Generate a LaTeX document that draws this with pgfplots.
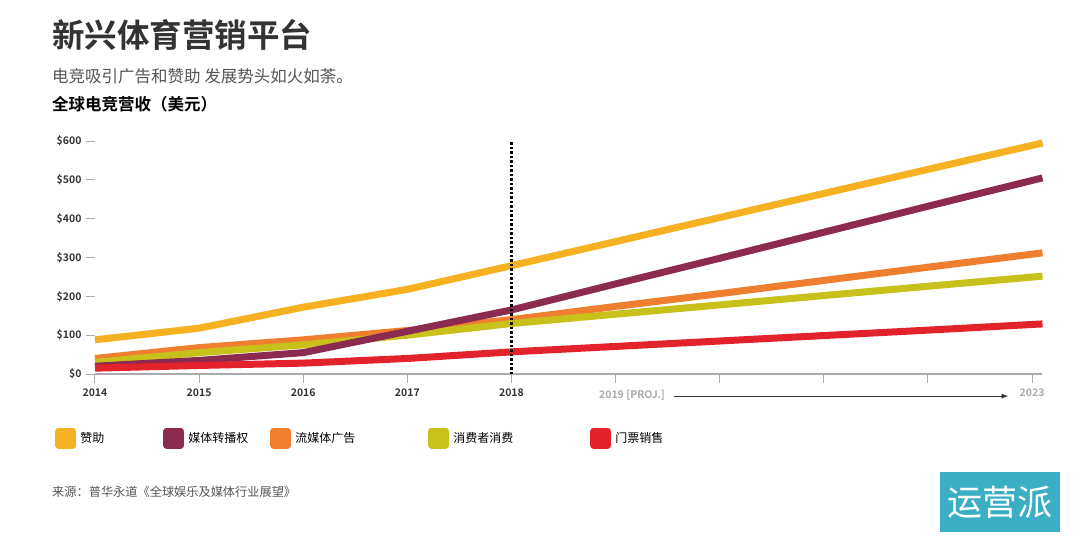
\documentclass[border=0pt]{standalone}
\usepackage{pgfplots}
\pgfplotsset{compat=1.18}
\usepackage{fontspec}
\setmainfont{Noto Sans CJK SC}[BoldFont={Noto Sans CJK SC Bold}]
\definecolor{cSpon}{HTML}{F6B123}
\definecolor{cMedia}{HTML}{8C2B50}
\definecolor{cStream}{HTML}{EF7F2F}
\definecolor{cCons}{HTML}{C9C11B}
\definecolor{cTicket}{HTML}{E2232B}
\definecolor{cText}{HTML}{333333}
\definecolor{cGray}{HTML}{555555}
\definecolor{cTick}{HTML}{AAAAAA}
\definecolor{cLogo}{HTML}{3AAFC4}
\begin{document}
\begin{tikzpicture}
\useasboundingbox[fill=white] (0pt,0pt) rectangle (1080pt,-552pt);
\node[anchor=west,text=cText,font=\fontsize{32.5}{36}\selectfont\bfseries,inner sep=0pt] at (52pt,-35pt) {新兴体育营销平台};
\node[anchor=west,text=cGray,font=\fontsize{16.5}{20}\selectfont,inner sep=0pt] at (52pt,-76pt) {电竞吸引广告和赞助 发展势头如火如荼。};
\node[anchor=west,text=black,font=\fontsize{16.5}{20}\selectfont\bfseries,inner sep=0pt] at (52pt,-104pt) {全球电竞营收（美元）};
\node[anchor=west,text=cGray,font=\fontsize{12.2}{14}\selectfont,inner sep=0pt] at (52pt,-492pt) {来源：普华永道《全球娱乐及媒体行业展望》};
\fill[cLogo] (940pt,-472pt) rectangle (1060pt,-532pt);
\node[text=white,font=\fontsize{35}{38}\selectfont,inner sep=0pt] at (1000pt,-502pt) {运营派};
\begin{axis}[
  at={(95pt,-374pt)}, anchor=south west,
  scale only axis, width=947.5pt, height=233pt,
  xmin=2014, xmax=2023.1, ymin=0, ymax=600,
  clip=false,
  axis lines*=left,
  x axis line style={cTick, line width=1.2pt},
  y axis line style={draw=none},
  tick style={cTick, line width=1pt},
  tick align=outside,
  major tick length=9pt,
  xtick={2014,2015,...,2023},
  xticklabels={2014,2015,2016,2017,2018,{},{},{},{},{\color{cTick}2023}},
  ytick={0,100,...,600},
  yticklabel={\$\pgfmathprintnumber{\tick}},
  /pgf/number format/assume math mode=true,
  ticklabel style={font=\fontsize{10.5}{12}\selectfont\bfseries, text=cText},
  yticklabel style={xshift=-1pt},
  xticklabel style={yshift=-2pt},
  legend columns=5,
  legend style={at={(-0.042,-0.275)}, anchor=west, draw=none, fill=none,
    font=\fontsize{12}{14}\selectfont, text=black, inner sep=0pt,
    /tikz/every even column/.append style={column sep=0pt},
    nodes={inner xsep=4pt, inner ysep=0pt}},
  legend image code/.code={\fill[#1] (0pt,-7pt) rectangle (14pt,7pt);},
  line join=round,
]
\addlegendimage{cSpon, line width=7pt}
\addlegendentry{\makebox[79pt][l]{赞助}}
\addlegendimage{cMedia, line width=7pt}
\addlegendentry{\makebox[78pt][l]{媒体转播权}}
\addlegendimage{cStream, line width=7pt}
\addlegendentry{\makebox[129pt][l]{流媒体广告}}
\addlegendimage{cCons, line width=7pt}
\addlegendentry{\makebox[133pt][l]{消费者消费}}
\addlegendimage{cTicket, line width=7pt}
\addlegendentry{\makebox[60pt][l]{门票销售}}
\addplot[cStream, line width=7pt, forget plot] coordinates {(2014,40) (2015,68) (2016,88) (2017,112) (2018,140) (2019,174) (2020,207) (2021,241) (2022,275) (2023.1,312)};
\addplot[cCons, line width=7pt, forget plot] coordinates {(2014,30) (2015,55) (2016,75) (2017,100) (2018,130) (2019,154) (2020,178) (2021,202) (2022,226) (2023.1,252)};
\addplot[cMedia, line width=7pt, forget plot] coordinates {(2014,20) (2015,35) (2016,55) (2017,110) (2018,165) (2019,232) (2020,298) (2021,365) (2022,432) (2023.1,505)};
\addplot[cTicket, line width=7pt, forget plot] coordinates {(2014,15) (2015,22) (2016,28) (2017,40) (2018,57) (2019,71) (2020,85) (2021,99) (2022,113) (2023.1,129)};
\addplot[cSpon, line width=7pt, forget plot] coordinates {(2014,88) (2015,118) (2016,172) (2017,218) (2018,279) (2019,341) (2020,403) (2021,465) (2022,527) (2023.1,595)};
\draw[black, line width=2.6pt, dash pattern=on 2.5pt off 2pt] (axis cs:2018,0) -- (axis cs:2018,600);
\node[anchor=base west, text=cTick, font=\fontsize{10.5}{12}\selectfont\bfseries, inner sep=0pt] at (axis cs:2018.84,-63) {2019 [PROJ.]};
\draw[cText, line width=1.2pt, -latex] (axis cs:2019.56,-57) -- (axis cs:2022.77,-57);
\end{axis}
\end{tikzpicture}
\end{document}
